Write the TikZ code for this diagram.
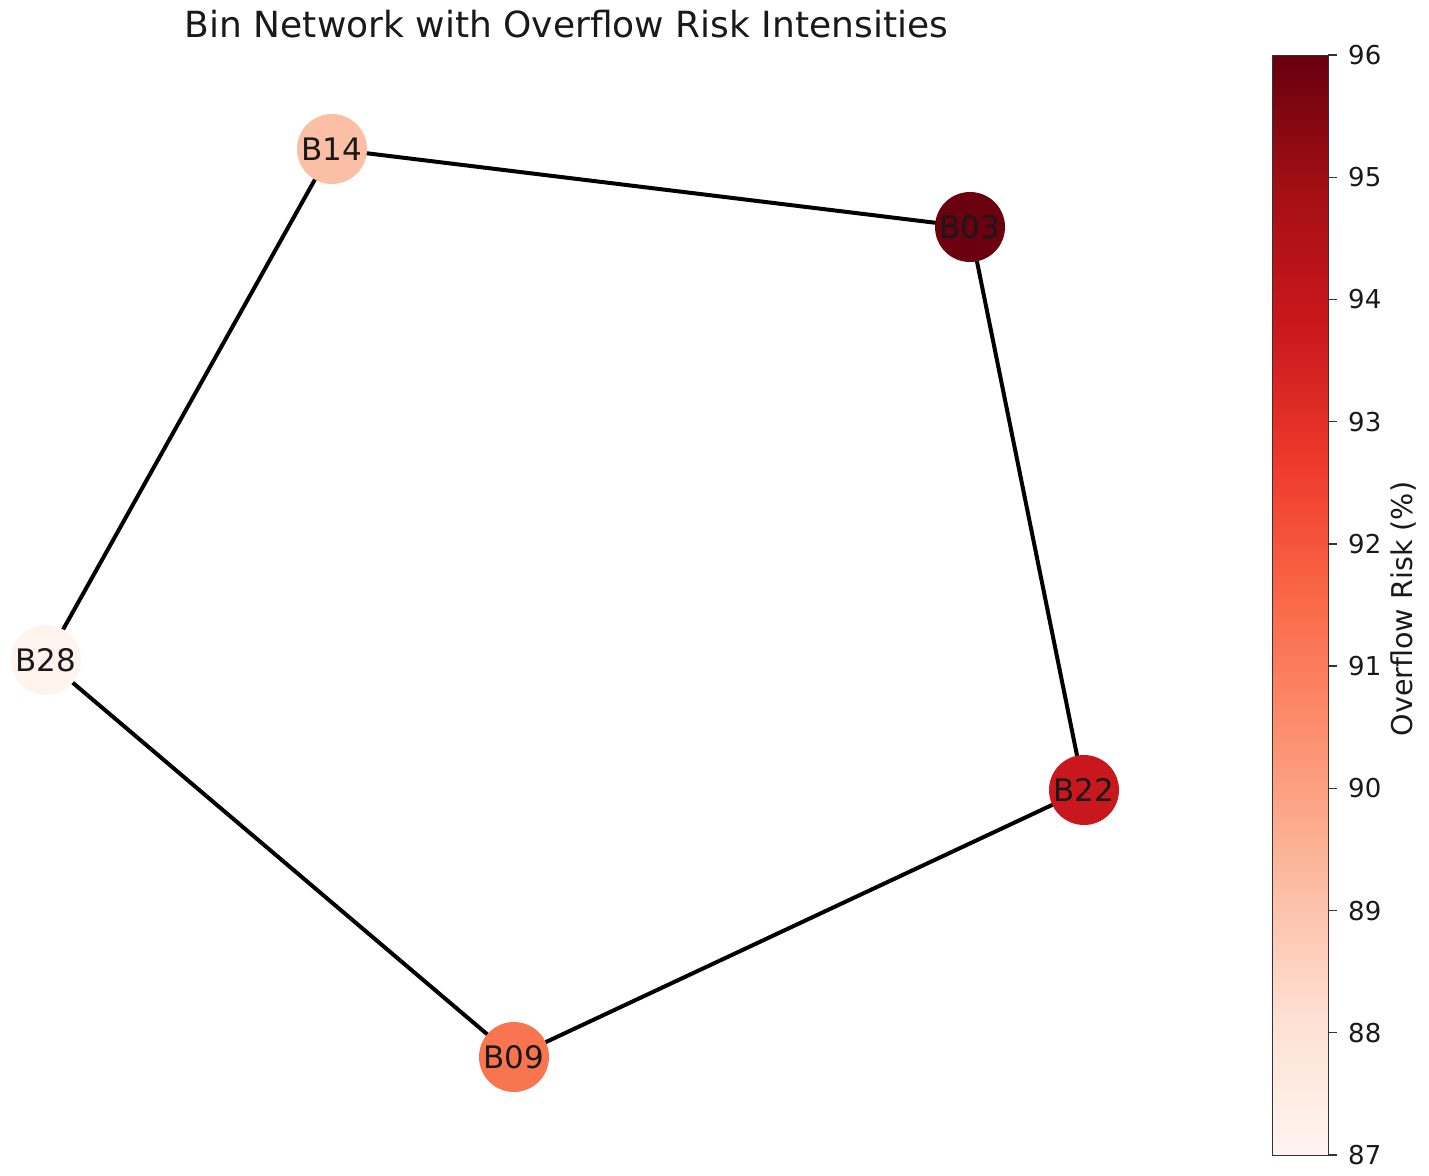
\documentclass[tikz,border=0pt]{standalone}
\usepackage{fontspec}
\setmainfont{DejaVu Sans}
\usetikzlibrary{backgrounds}
\definecolor{r0}{HTML}{FFF5F0}
\definecolor{r1}{HTML}{FEE0D2}
\definecolor{r2}{HTML}{FCBBA1}
\definecolor{r3}{HTML}{FC9272}
\definecolor{r4}{HTML}{FB6A4A}
\definecolor{r5}{HTML}{EF3B2C}
\definecolor{r6}{HTML}{CB181D}
\definecolor{r7}{HTML}{A50F15}
\definecolor{r8}{HTML}{67000D}
\definecolor{cB14}{HTML}{FBBFA6}
\definecolor{cB03}{HTML}{6B0010}
\definecolor{cB28}{HTML}{FFF3EE}
\definecolor{cB22}{HTML}{C8171D}
\definecolor{cB09}{HTML}{F8754F}
\tikzset{
  bin/.style={circle, minimum size=70pt, inner sep=0pt, text=black!90, font=\fontsize{31}{31}\selectfont},
  edge/.style={line width=4pt, black, line cap=round},
  tick/.style={line width=1.3pt, black!80},
  ticklabel/.style={anchor=west, inner sep=0pt, font=\fontsize{26}{26}\selectfont, text=black!90},
}
\begin{document}
\begin{tikzpicture}[x=1pt,y=-1pt]
\useasboundingbox (0,0) rectangle (1429,1175);
% nodes
\node[bin, fill=cB14] (b14) at (332,149) {B14};
\node[bin, fill=cB03] (b03) at (970,227) {B03};
\node[bin, fill=cB28] (b28) at (46,660) {B28};
\node[bin, fill=cB22] (b22) at (1084,790) {B22};
\node[bin, fill=cB09] (b09) at (514,1057) {B09};
\begin{scope}[on background layer]
\draw[edge] (b14.center) -- (b03.center);
\draw[edge] (b03.center) -- (b22.center);
\draw[edge] (b22.center) -- (b09.center);
\draw[edge] (b09.center) -- (b28.center);
\draw[edge] (b28.center) -- (b14.center);
\end{scope}
% title
\node[font=\fontsize{36}{36}\selectfont, text=black!90, inner sep=0pt, anchor=base] (title) at (566.5,37) {Bin Network with Overflow Risk Intensities};
% colorbar
\foreach \i/\top/\bot in {0/r8/r7,1/r7/r6,2/r6/r5,3/r5/r4,4/r4/r3,5/r3/r2,6/r2/r1,7/r1/r0}{
  \shade[top color=\top, bottom color=\bot] (1272,{55+137.5*\i}) rectangle (1328,{55+137.5*(\i+1)+0.5});
}
\node[draw=black!80, line width=1.3pt, minimum width=56pt, minimum height=1100pt, inner sep=0pt, anchor=north west] (cbar) at (1272,55) {};
\foreach \v in {87,...,96}{
  \draw[tick] (1328,{55+122.222*(96-\v)}) -- (1337,{55+122.222*(96-\v)});
  \node[ticklabel] at (1348,{55+122.222*(96-\v)}) {\v};
}
\node[rotate=90, font=\fontsize{28.6}{28.6}\selectfont, text=black!90, inner sep=0pt] (cblabel) at (1404,609) {Overflow Risk (\%)};
\end{tikzpicture}
\end{document}
